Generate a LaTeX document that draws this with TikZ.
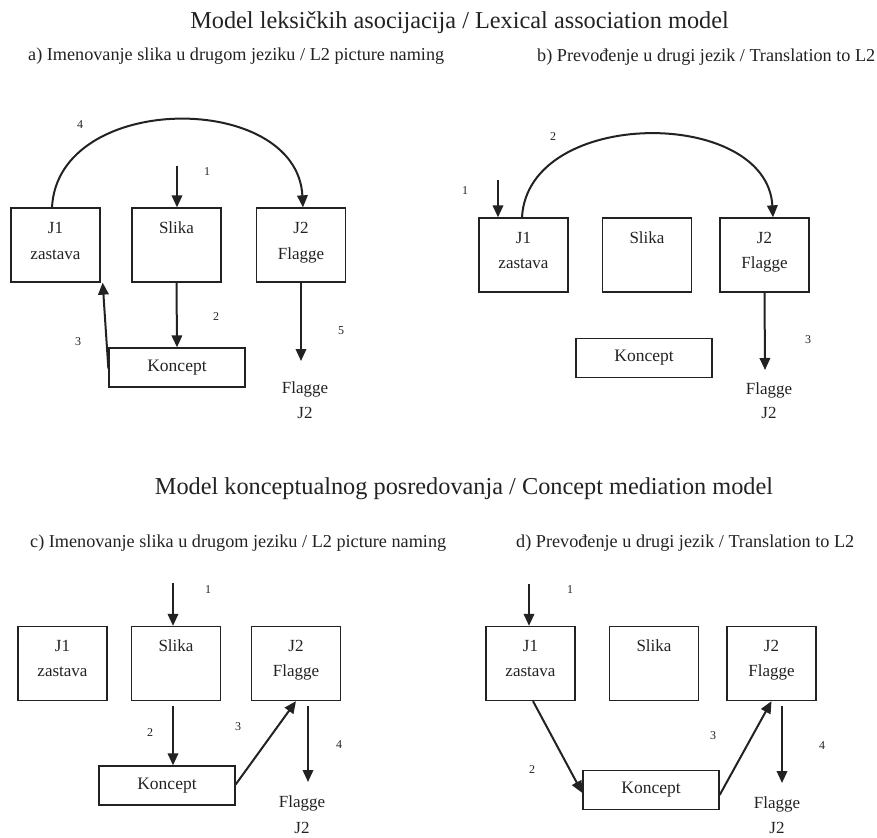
\documentclass[tikz,border=0pt]{standalone}
\usepackage{fontspec}
\setmainfont{Liberation Serif}
\usetikzlibrary{arrows.meta}
\definecolor{ink}{HTML}{222222}
\tikzset{
  box/.style={draw=ink, line width=1.3pt, minimum width=89pt, minimum height=74pt, inner sep=0pt},
  kbox/.style={draw=ink, line width=1.3pt, minimum width=136pt, minimum height=39pt, inner sep=0pt, text=ink, font=\fontsize{17.5}{19}\selectfont},
  txt/.style={inner sep=0pt, text=ink, font=\fontsize{17}{19}\selectfont},
  num/.style={inner sep=0pt, text=ink, font=\fontsize{12}{14}\selectfont},
  ttl/.style={inner sep=0pt, text=ink, font=\fontsize{24.3}{27}\selectfont},
  sub/.style={inner sep=0pt, text=ink, font=\fontsize{18.2}{20}\selectfont},
  arr/.style={draw=ink, line width=2pt, -{Triangle[length=12pt,width=10.5pt]}},
}
\begin{document}
\begin{tikzpicture}[x=1pt,y=-1pt]
\useasboundingbox (0,0) rectangle (877,837);
% titles
\node[ttl] (t1) at (459.5,23) {Model leksičkih asocijacija / Lexical association model};
\node[sub, anchor=west] (sa) at (28,56) {a) Imenovanje slika u drugom jeziku / L2 picture naming};
\node[sub, anchor=west] (sb) at (537,57) {b) Prevođenje u drugi jezik / Translation to L2};
\node[ttl] (t2) at (464,489) {Model konceptualnog posredovanja / Concept mediation model};
\node[sub, anchor=west] (sc) at (30,543) {c) Imenovanje slika u drugom jeziku / L2 picture naming};
\node[sub, anchor=west] (sd) at (516,543) {d) Prevođenje u drugi jezik / Translation to L2};

% ---- panel a
\node[box] (aJ1) at (55.5,245) {};
\node[box] (aSl) at (176.5,245) {};
\node[box] (aJ2) at (301,245) {};
\node[kbox] (aKo) at (177,367.5) {Koncept};
\node[txt] (aJ1a) at (55.5,228) {J1};
\node[txt] (aJ1b) at (55.5,255) {zastava};
\node[txt] (aSla) at (176.5,228) {Slika};
\node[txt] (aJ2a) at (301,228) {J2};
\node[txt] (aJ2b) at (301,255) {Flagge};
\node[txt] (aFa) at (305,389) {Flagge};
\node[txt] (aFb) at (305,413) {J2};
\coordinate (a1s) at (177,166);
\coordinate (a5e) at (301,361);
\draw[arr] (a1s) -- (a1s |- aSl.north);
\draw[arr] (aSl.south) -- (aKo.north);
\draw[arr] ([yshift=-1pt]aKo.west) -- ([xshift=2pt]aJ1.south east);
\draw[arr] (aJ2.south) -- (a5e);
\draw[arr] ([xshift=-3.5pt]aJ1.north) .. controls (58,91) and (297,91) .. ([xshift=2pt]aJ2.north);
\node[num] (an1) at (207,172) {1};
\node[num] (an2) at (216,317) {2};
\node[num] (an3) at (78,342) {3};
\node[num] (an4) at (80,125) {4};
\node[num] (an5) at (341,331) {5};

% ---- panel b
\node[box] (bJ1) at (523.5,255) {};
\node[box] (bSl) at (647,255) {};
\node[box] (bJ2) at (764.5,255) {};
\node[kbox] (bKo) at (644,358) {Koncept};
\node[txt] (bJ1a) at (523.5,238) {J1};
\node[txt] (bJ1b) at (523.5,264) {zastava};
\node[txt] (bSla) at (647,238) {Slika};
\node[txt] (bJ2a) at (764.5,238) {J2};
\node[txt] (bJ2b) at (764.5,264) {Flagge};
\node[txt] (bFa) at (769,390) {Flagge};
\node[txt] (bFb) at (769,413) {J2};
\coordinate (b1s) at (498,180);
\coordinate (b3e) at (765,370);
\draw[arr] (b1s) -- (b1s |- bJ1.north);
\draw[arr] ([xshift=-1.5pt]bJ1.north) .. controls (528,107) and (767,107) .. ([xshift=8.5pt]bJ2.north);
\draw[arr] (bJ2.south) -- (b3e);
\node[num] (bn1) at (465,191) {1};
\node[num] (bn2) at (553,137) {2};
\node[num] (bn3) at (808,340) {3};

% ---- panel c
\node[box] (cJ1) at (62.5,663.5) {};
\node[box] (cSl) at (176,663.5) {};
\node[box] (cJ2) at (296,663.5) {};
\node[kbox] (cKo) at (167,785.5) {Koncept};
\node[txt] (cJ1a) at (62.5,646) {J1};
\node[txt] (cJ1b) at (62.5,672) {zastava};
\node[txt] (cSla) at (176,646) {Slika};
\node[txt] (cJ2a) at (296,646) {J2};
\node[txt] (cJ2b) at (296,672) {Flagge};
\node[txt] (cFa) at (302,803) {Flagge};
\node[txt] (cFb) at (302,828) {J2};
\coordinate (c1s) at (173,583);
\coordinate (c2s) at (173,706);
\coordinate (c4s) at (308,706);
\coordinate (c4e) at (308,782);
\draw[arr] (c1s) -- (c1s |- cSl.north);
\draw[arr] (c2s) -- (c2s |- cKo.north);
\draw[arr] ([yshift=1pt]cKo.east) -- (cJ2.south);
\draw[arr] (c4s) -- (c4e);
\node[num] (cn1) at (208,590) {1};
\node[num] (cn2) at (150,733) {2};
\node[num] (cn3) at (238,727) {3};
\node[num] (cn4) at (339,745) {4};

% ---- panel d
\node[box] (dJ1) at (530.5,663.5) {};
\node[box] (dSl) at (654,663.5) {};
\node[box] (dJ2) at (771.5,663.5) {};
\node[kbox] (dKo) at (651,790) {Koncept};
\node[txt] (dJ1a) at (530.5,646) {J1};
\node[txt] (dJ1b) at (530.5,672) {zastava};
\node[txt] (dSla) at (654,646) {Slika};
\node[txt] (dJ2a) at (771.5,646) {J2};
\node[txt] (dJ2b) at (771.5,672) {Flagge};
\node[txt] (dFa) at (777,804) {Flagge};
\node[txt] (dFb) at (777,828) {J2};
\coordinate (d1s) at (529,584);
\coordinate (d4s) at (782,706);
\coordinate (d4e) at (782,783);
\draw[arr] (d1s) -- (d1s |- dJ1.north);
\draw[arr] ([xshift=2.5pt]dJ1.south) -- ([yshift=-3pt]dKo.west);
\draw[arr] ([yshift=-5pt]dKo.east) -- (dJ2.south);
\draw[arr] (d4s) -- (d4e);
\node[num] (dn1) at (570,590) {1};
\node[num] (dn2) at (532,770) {2};
\node[num] (dn3) at (713,736) {3};
\node[num] (dn4) at (822,746) {4};
\end{tikzpicture}
\end{document}
